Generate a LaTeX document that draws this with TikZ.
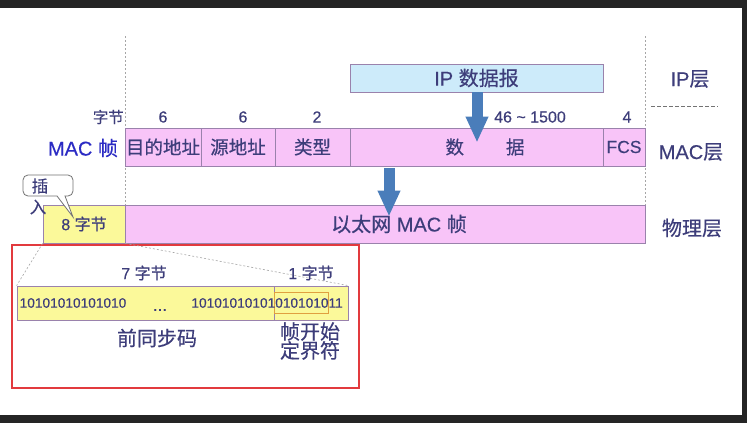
\documentclass[tikz,border=0pt]{standalone}
\usepackage{fontspec}
\setmainfont{Liberation Sans}[FakeBold=0.3]
\newfontfamily\cjk{Noto Sans CJK SC}[FakeBold=0.5]
\newcommand{\zh}[1]{{\cjk #1}}
\usetikzlibrary{arrows.meta}
\definecolor{ink}{HTML}{3D3D7A}
\definecolor{macblue}{HTML}{2B2BC4}
\definecolor{pinkc}{HTML}{F8C4F8}
\definecolor{yelc}{HTML}{FBF99A}
\definecolor{bluec}{HTML}{CDEBFA}
\definecolor{bord}{HTML}{9A82AC}
\definecolor{arrowc}{HTML}{4A7DBA}
\definecolor{redc}{HTML}{E23A3E}
\definecolor{orangec}{HTML}{E0A040}
\definecolor{frame}{HTML}{252525}
\newcommand{\fs}[1]{\fontsize{#1}{#1}\selectfont}
\tikzset{
  cell/.style={draw=bord, line width=0.8pt, fill=pinkc, minimum height=38pt, inner sep=0pt, text=ink, font=\fs{18.5}},
  ycell/.style={cell, fill=yelc},
  lbl/.style={text=ink, inner sep=0pt},
  guide/.style={draw=gray!70, line width=0.6pt, dash pattern=on 2pt off 2pt},
  fatarrow/.style={draw=arrowc, line width=11pt, -{Triangle[length=26pt,width=21pt]}},
}
\begin{document}
\begin{tikzpicture}[x=1pt,y=-1pt]
\useasboundingbox (0,0) rectangle (747,423);
% dark frame
\fill[white] (0,0) rectangle (747,423);
\fill[frame] (0,0) rectangle (747,8);
\fill[frame] (742,0) rectangle (747,423);
\fill[frame] (0,415) rectangle (747,423);

% guides
\coordinate (gl1) at (125,36);
\coordinate (gl2) at (125,205);
\coordinate (gr1) at (645,36);
\coordinate (gr2) at (645,205);
\draw[guide] (gl1) -- (gl2);
\draw[guide] (gr1) -- (gr2);
\coordinate (sd1) at (651,106);
\coordinate (sd2) at (718,106);
\draw[draw=gray!90!black, line width=0.7pt, dash pattern=on 4pt off 2pt] (sd1) -- (sd2);

% IP datagram
\node[cell, fill=bluec, minimum width=253pt, minimum height=28pt, font=\fs{20}] (ip) at (476.5,78) {IP \zh{数据报}};
\node[lbl, font=\fs{20}] (iplayer) at (690,79) {IP\zh{层}};

% byte labels
\node[lbl, font=\fs{15.5}, anchor=east] (bytes) at (124,117) {\zh{字节}};
\node[lbl, font=\fs{16}] (b1) at (163,117) {6};
\node[lbl, font=\fs{16}] (b2) at (243,117) {6};
\node[lbl, font=\fs{16}] (b3) at (317,117) {2};
\node[lbl, font=\fs{16}] (b4) at (530,117) {46 \char"007E{} 1500};
\node[lbl, font=\fs{16}] (b5) at (627,117) {4};

% MAC frame row
\node[lbl, text=macblue, font=\fs{20}] (macf) at (83,148) {MAC \zh{帧}};
\node[cell, minimum width=76pt] (dst) at (163,147) {\zh{目的地址}};
\node[cell, minimum width=74pt] (src) at (238,147) {\zh{源地址}};
\node[cell, minimum width=75pt] (typ) at (312.5,147) {\zh{类型}};
\node[cell, minimum width=253pt] (data) at (476.5,147) {\hspace*{17pt}\zh{数}\hspace{42pt}\zh{据}};
\node[cell, minimum width=42pt, font=\fs{17.5}] (fcs) at (624,147) {FCS};
\node[lbl, font=\fs{20}] (maclayer) at (691,152) {MAC\zh{层}};

% physical row
\node[ycell, minimum width=82pt, font=\fs{16}] (pre) at (84,224) {8 \zh{字节}};
\node[cell, minimum width=520pt, font=\fs{20}] (eth) at (385,224) {\hspace*{28pt}\zh{以太网} MAC \zh{帧}};
\node[lbl, font=\fs{20}] (phylayer) at (692,228) {\zh{物理层}};

% arrows
\coordinate (ax1) at (477,0);
\coordinate (ax2) at (389,0);
\draw[fatarrow] (ip.south -| ax1) -- ([yshift=-15pt]data.north -| ax1);
\draw[fatarrow] ([yshift=-2pt]data.south -| ax2) -- ([yshift=-12pt]eth.north -| ax2);

% callout
\draw[draw=gray!90!black, line width=0.8pt, fill=white, rounded corners=5pt]
  (23,175) -- (73,175) -- (73,196) [sharp corners] -- (65,196) -- (73,217) -- (57,196) [rounded corners=5pt] -- (23,196) -- cycle;
\node[lbl, font=\fs{16.5}] (cha) at (40,186) {\zh{插}};
\node[lbl, font=\fs{16.5}] (ru) at (38,207) {\zh{入}};

% detail box
\node[draw=redc, line width=1.6pt, minimum width=347pt, minimum height=143pt, inner sep=0pt] (detail) at (185.5,316.5) {};
\node[draw=bord, line width=0.8pt, fill=yelc, minimum width=331pt, minimum height=34pt, inner sep=0pt] (bits) at (182.5,303) {};
\coordinate (dv1) at (274,286);
\coordinate (dv2) at (274,320);
\draw[draw=bord, line width=0.8pt] (dv1) -- (dv2);
\node[draw=orangec, line width=0.8pt, minimum width=54pt, minimum height=21pt, inner sep=0pt] (sfdbox) at (301,302.5) {};
\draw[guide] (pre.south west) -- (bits.north west);
\draw[guide] (pre.south east) -- (bits.north east);

\node[lbl, font=\fs{13.7}] (bitsl) at (73,303) {10101010101010};
\node[lbl, font=\fs{17}] (dots) at (160,310) {...};
\node[lbl, font=\fs{13.7}, anchor=east] (bitsr) at (343,303) {10101010101010101011};
\node[lbl, font=\fs{16}] (sev) at (144,273) {7 \zh{字节}};
\node[lbl, font=\fs{16}] (one) at (311,273) {1 \zh{字节}};
\node[lbl, font=\fs{20}] (pream) at (157,338) {\zh{前同步码}};
\node[lbl, font=\fs{20}, align=center] (sfd) at (310,341) {\zh{帧开始}\\[-1pt]\zh{定界符}};
\end{tikzpicture}
\end{document}
